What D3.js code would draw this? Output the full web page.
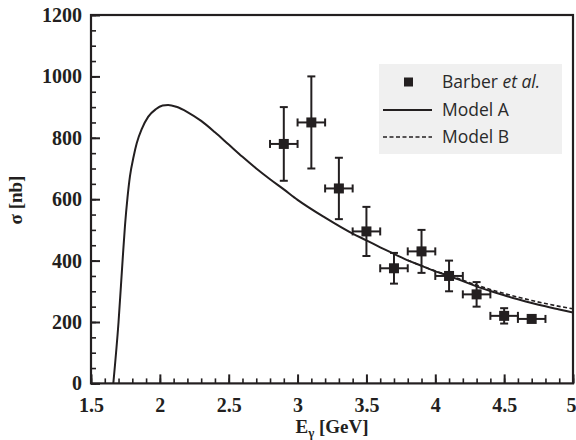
<!DOCTYPE html>
<html>
<head>
<meta charset="utf-8">
<script src="https://cdn.jsdelivr.net/npm/d3@7"></script>
<style>
  html, body { margin: 0; padding: 0; background: #fff; }
  svg { display: block; }
</style>
</head>
<body>
<svg id="chart" width="576" height="440"></svg>
<script>
// Barber et al. measurements: photon energy, cross section, errors
const energy   = [2.9, 3.1, 3.3, 3.5, 3.7, 3.9, 4.1, 4.3, 4.5, 4.7];
const sigma    = [780, 850, 635, 495, 375, 430, 350, 290, 220, 210];
const sigmaErr = [120, 150, 100, 80, 50, 70, 50, 40, 25, 0];
const energyErr = [0.1, 0.1, 0.1, 0.1, 0.1, 0.1, 0.1, 0.1, 0.1, 0.1];

// Model A curve
const modelAE = [1.662, 1.70, 1.73, 1.747, 1.765, 1.783, 1.81, 1.832, 1.87, 1.916, 1.97, 2.02, 2.06,
                 2.12, 2.2, 2.3, 2.4, 2.5, 2.6, 2.7, 2.8, 2.9, 3.0, 3.2, 3.4, 3.5, 3.6, 3.7, 3.8,
                 3.9, 4.0, 4.1, 4.2, 4.3, 4.4, 4.5, 4.6, 4.7, 4.8, 4.9, 5.0];
const modelAS = [0, 200, 405, 515, 605, 675, 740, 782, 830, 869, 893, 905, 907,
                 901, 884, 855, 818, 778, 738, 700, 665, 632, 598, 540, 488, 466, 443, 422, 401,
                 383, 365, 350, 333, 316, 301, 287, 274, 262, 251, 241, 231];
// Model B differs only at higher energies
const modelBE = [3.8, 3.9, 4.0, 4.1, 4.2, 4.3, 4.4, 4.5, 4.6, 4.7, 4.8, 4.9, 5.0];
const modelBS = [401, 383, 366, 352, 336, 320, 306, 293, 281, 270, 260, 251, 243];

const xTicks = [1.5, 2, 2.5, 3, 3.5, 4, 4.5, 5];
const yTicks = [0, 200, 400, 600, 800, 1000, 1200];

const svg = d3.select("#chart");
const m = { left: 91, right: 573, top: 15, bottom: 383.4 };
const ink = "#231f20";

const x = d3.scaleLinear().domain([1.5, 5]).range([m.left, m.right]);
const y = d3.scaleLinear().domain([0, 1200]).range([m.bottom, m.top]);

// clip curves to the plotting frame
svg.append("clipPath").attr("id", "plotClip")
  .append("rect").attr("x", m.left).attr("y", m.top)
  .attr("width", m.right - m.left).attr("height", m.bottom - m.top);

const line = d3.line().x(d => x(d[0])).y(d => y(d[1])).curve(d3.curveMonotoneX);
const plot = svg.append("g").attr("clip-path", "url(#plotClip)");

plot.append("path")
  .attr("d", line(d3.zip(modelBE, modelBS)))
  .attr("fill", "none").attr("stroke", ink).attr("stroke-width", 1.6)
  .attr("stroke-dasharray", "4,2.5");

plot.append("path")
  .attr("d", line(d3.zip(modelAE, modelAS)))
  .attr("fill", "none").attr("stroke", ink).attr("stroke-width", 2);

// legend
const lg = svg.append("g");
lg.append("rect").attr("x", 379).attr("y", 64).attr("width", 183).attr("height", 90)
  .attr("fill", "#f0f0f0");
const rows = [82, 110, 137];
lg.append("rect").attr("x", 404).attr("y", rows[0] - 4.5).attr("width", 9).attr("height", 9)
  .attr("fill", ink);
lg.append("line").attr("x1", 383).attr("x2", 432).attr("y1", rows[1]).attr("y2", rows[1])
  .attr("stroke", ink).attr("stroke-width", 1.8);
lg.append("line").attr("x1", 383).attr("x2", 432).attr("y1", rows[2]).attr("y2", rows[2])
  .attr("stroke", ink).attr("stroke-width", 1.5).attr("stroke-dasharray", "4,2.5");
const lt = lg.append("g").attr("font-family", "'Open Sans', Lato, sans-serif")
  .attr("font-size", 17.5).attr("fill", "#2a2a2a");
const t0 = lt.append("text").attr("x", 442).attr("y", rows[0] + 6);
t0.append("tspan").text("Barber ");
t0.append("tspan").attr("font-style", "italic").text("et al.");
lt.append("text").attr("x", 442).attr("y", rows[1] + 6).text("Model A");
lt.append("text").attr("x", 442).attr("y", rows[2] + 6).text("Model B");

// data points with error bars
const pts = svg.append("g").attr("stroke", ink).attr("stroke-width", 2);
energy.forEach((e, i) => {
  const cx = x(e), cy = y(sigma[i]);
  const x0 = x(e - energyErr[i]), x1 = x(e + energyErr[i]);
  pts.append("line").attr("x1", x0).attr("x2", x1).attr("y1", cy).attr("y2", cy);
  pts.append("line").attr("x1", x0).attr("x2", x0).attr("y1", cy - 4).attr("y2", cy + 4);
  pts.append("line").attr("x1", x1).attr("x2", x1).attr("y1", cy - 4).attr("y2", cy + 4);
  if (sigmaErr[i] > 0) {
    const y0 = y(sigma[i] - sigmaErr[i]), y1 = y(sigma[i] + sigmaErr[i]);
    pts.append("line").attr("x1", cx).attr("x2", cx).attr("y1", y0).attr("y2", y1);
    pts.append("line").attr("x1", cx - 4).attr("x2", cx + 4).attr("y1", y0).attr("y2", y0);
    pts.append("line").attr("x1", cx - 4).attr("x2", cx + 4).attr("y1", y1).attr("y2", y1);
  }
  pts.append("rect").attr("x", cx - 5).attr("y", cy - 5).attr("width", 10).attr("height", 10)
    .attr("fill", ink).attr("stroke", "none");
});

// axes: inward ticks, major and minor
const xAxis = d3.axisBottom(x).tickValues(xTicks).tickSize(-9).tickPadding(14)
  .tickFormat(d => String(d));
const xMinor = d3.axisBottom(x).tickValues(d3.range(15, 51).map(d => d / 10))
  .tickSize(-5).tickFormat("");
const yAxis = d3.axisLeft(y).tickValues(yTicks).tickSize(-9).tickPadding(9)
  .tickFormat(d => String(d));
const yMinor = d3.axisLeft(y).tickValues(d3.range(0, 1201, 50))
  .tickSize(-5).tickFormat("");

function styleAxis(g) {
  g.select(".domain").remove();
  g.selectAll(".tick line").attr("stroke", ink).attr("stroke-width", 1.6);
  g.selectAll("text").attr("fill", ink)
    .attr("font-family", "'Liberation Serif', 'Times New Roman', serif")
    .attr("font-weight", "bold").attr("font-size", 20);
}

svg.append("g").attr("transform", `translate(0,${m.bottom})`).call(xMinor).call(styleAxis);
const gx = svg.append("g").attr("transform", `translate(0,${m.bottom})`).call(xAxis).call(styleAxis);
gx.selectAll(".tick line").attr("stroke-width", 2);
// keep the last label inside the page edge
gx.selectAll(".tick text").filter(d => d === 5).attr("text-anchor", "end").attr("dx", 3);
svg.append("g").attr("transform", `translate(${m.left},0)`).call(yMinor).call(styleAxis);
svg.append("g").attr("transform", `translate(${m.left},0)`).call(yAxis).call(styleAxis)
  .selectAll(".tick line").attr("stroke-width", 2);

// frame
svg.append("rect").attr("x", m.left).attr("y", m.top)
  .attr("width", m.right - m.left).attr("height", m.bottom - m.top)
  .attr("fill", "none").attr("stroke", ink).attr("stroke-width", 2.2);

// axis titles
const titleFont = "'Liberation Serif', 'Times New Roman', serif";
const xt = svg.append("text").attr("x", 332).attr("y", 433).attr("text-anchor", "middle")
  .attr("font-family", titleFont).attr("font-weight", "bold").attr("font-size", 19)
  .attr("fill", ink);
xt.append("tspan").text("E");
xt.append("tspan").attr("font-size", 13).attr("dy", 4).text("γ");
xt.append("tspan").attr("dy", -4).text(" [GeV]");

svg.append("text").attr("transform", "translate(22,200) rotate(-90)")
  .attr("text-anchor", "middle").attr("font-family", titleFont)
  .attr("font-weight", "bold").attr("font-size", 19).attr("fill", ink)
  .text("σ [nb]");
</script>
</body>
</html>
